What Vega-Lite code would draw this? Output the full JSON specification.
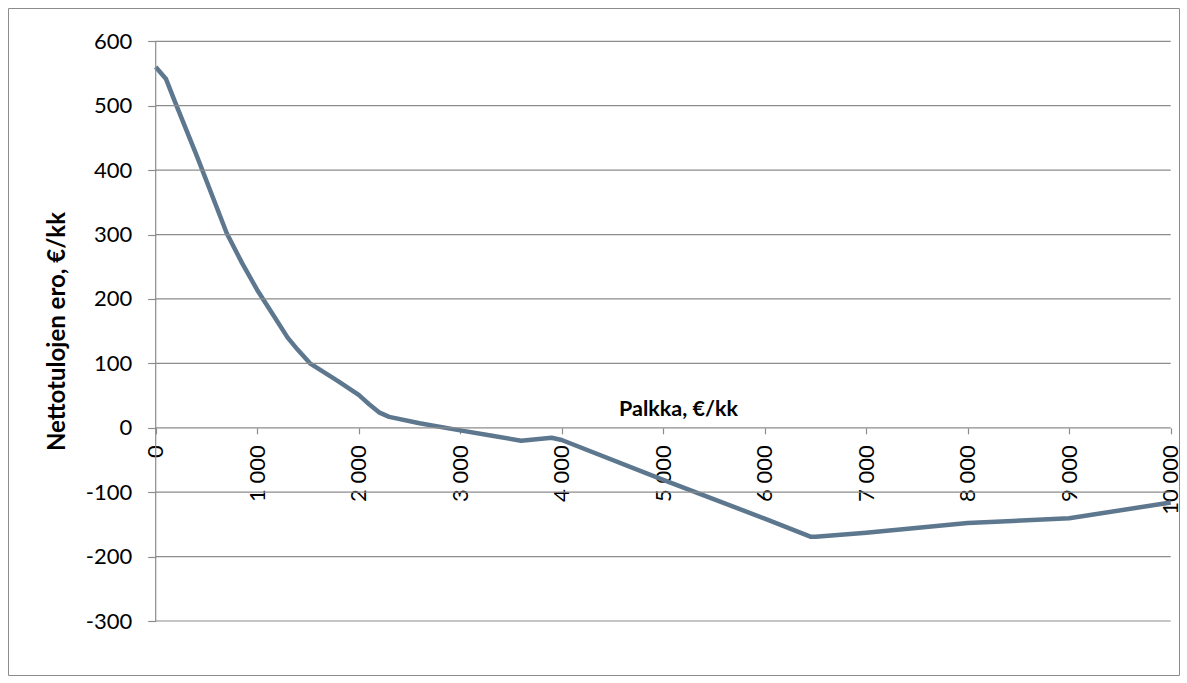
{
  "$schema": "https://vega.github.io/schema/vega-lite/v6.json",
  "width": 1171,
  "height": 667,
  "padding": {"left": 8, "top": 8, "right": 8, "bottom": 8},
  "autosize": {"type": "none"},
  "background": "white",
  "config": {
    "view": {"stroke": "#8c8c8c", "strokeWidth": 1},
    "font": "Lato"
  },
  "layer": [
    {
      "data": {"values": [
        {"Palkka": 0, "Ero": 560},
        {"Palkka": 100, "Ero": 542},
        {"Palkka": 200, "Ero": 502},
        {"Palkka": 400, "Ero": 424},
        {"Palkka": 700, "Ero": 302},
        {"Palkka": 850, "Ero": 256},
        {"Palkka": 1000, "Ero": 214},
        {"Palkka": 1150, "Ero": 177},
        {"Palkka": 1300, "Ero": 140},
        {"Palkka": 1400, "Ero": 121},
        {"Palkka": 1520, "Ero": 100},
        {"Palkka": 1800, "Ero": 72},
        {"Palkka": 2000, "Ero": 51},
        {"Palkka": 2100, "Ero": 37},
        {"Palkka": 2200, "Ero": 24},
        {"Palkka": 2300, "Ero": 17},
        {"Palkka": 2600, "Ero": 7},
        {"Palkka": 3000, "Ero": -4},
        {"Palkka": 3300, "Ero": -12},
        {"Palkka": 3600, "Ero": -20},
        {"Palkka": 3900, "Ero": -15.5},
        {"Palkka": 4000, "Ero": -19},
        {"Palkka": 5000, "Ero": -81},
        {"Palkka": 6000, "Ero": -141},
        {"Palkka": 6450, "Ero": -169},
        {"Palkka": 6500, "Ero": -169},
        {"Palkka": 7000, "Ero": -163},
        {"Palkka": 8000, "Ero": -148},
        {"Palkka": 9000, "Ero": -140.5},
        {"Palkka": 10000, "Ero": -116}
      ]},
      "mark": {"type": "line", "color": "#5d778f", "strokeWidth": 4.5, "strokeJoin": "round"},
      "encoding": {
        "x": {
          "field": "Palkka", "type": "quantitative",
          "scale": {"domain": [-1455.2, 10081.8], "nice": false, "zero": false},
          "axis": {
            "orient": "bottom",
            "offset": -247.2,
            "values": [0, 1000, 2000, 3000, 4000, 5000, 6000, 7000, 8000, 9000, 10000],
            "domain": false,
            "grid": false,
            "ticks": true,
            "tickSize": 6,
            "tickColor": "#8c8c8c",
            "tickWidth": 1.2,
            "labelAngle": -90,
            "labelPadding": 11,
            "labelFontSize": 22,
            "labelColor": "#000000",
            "labelFont": "Lato",
            "labelOverlap": false,
            "labelExpr": "replace(format(datum.value, ','), ',', ' ')",
            "title": "Palkka, €/kk",
            "titleFont": "Lato",
            "titleFontSize": 21.5,
            "titleFontWeight": "bold",
            "titleColor": "#000000",
            "titleX": 670,
            "titleY": -12,
            "titleAlign": "center",
            "titleBaseline": "alphabetic"
          }
        },
        "y": {
          "field": "Ero", "type": "quantitative",
          "scale": {"domain": [-383.8, 651.7], "nice": false, "zero": false},
          "axis": {
            "orient": "left",
            "offset": -147.7,
            "values": [-300, -200, -100, 0, 100, 200, 300, 400, 500, 600],
            "domain": false,
            "grid": false,
            "ticks": true,
            "tickSize": 8,
            "tickColor": "#8c8c8c",
            "tickWidth": 1.2,
            "labelPadding": 16,
            "labelFontSize": 22,
            "labelColor": "#000000",
            "labelFont": "Lato",
            "labelOverlap": false,
            "labelExpr": "datum.value < 0 ? '-' + abs(datum.value) : '' + datum.value",
            "title": "Nettotulojen ero, €/kk",
            "titleFont": "Lato",
            "titleFontSize": 24,
            "titleFontWeight": "bold",
            "titleColor": "#000000",
            "titleAngle": 270,
            "titleX": -98.7,
            "titleY": 323,
            "titleAlign": "center",
            "titleBaseline": "middle"
          }
        }
      }
    },
    {
      "data": {"values": [{"g": -300}, {"g": -200}, {"g": -100}, {"g": 0}, {"g": 100}, {"g": 200}, {"g": 300}, {"g": 400}, {"g": 500}, {"g": 600}]},
      "mark": {"type": "rule", "color": "#8c8c8c", "strokeWidth": 1.2},
      "encoding": {
        "y": {"field": "g", "type": "quantitative", "scale": {"domain": [-383.8, 651.7], "nice": false, "zero": false}},
        "x": {"datum": 0, "type": "quantitative", "scale": {"domain": [-1455.2, 10081.8], "nice": false, "zero": false}},
        "x2": {"datum": 10000}
      }
    },
    {
      "data": {"values": [{"a": 1}]},
      "mark": {"type": "rule", "color": "#8c8c8c", "strokeWidth": 1.2},
      "encoding": {
        "x": {"datum": 0, "type": "quantitative", "scale": {"domain": [-1455.2, 10081.8], "nice": false, "zero": false}},
        "y": {"datum": -300, "type": "quantitative", "scale": {"domain": [-383.8, 651.7], "nice": false, "zero": false}},
        "y2": {"datum": 600}
      }
    }
  ]
}
